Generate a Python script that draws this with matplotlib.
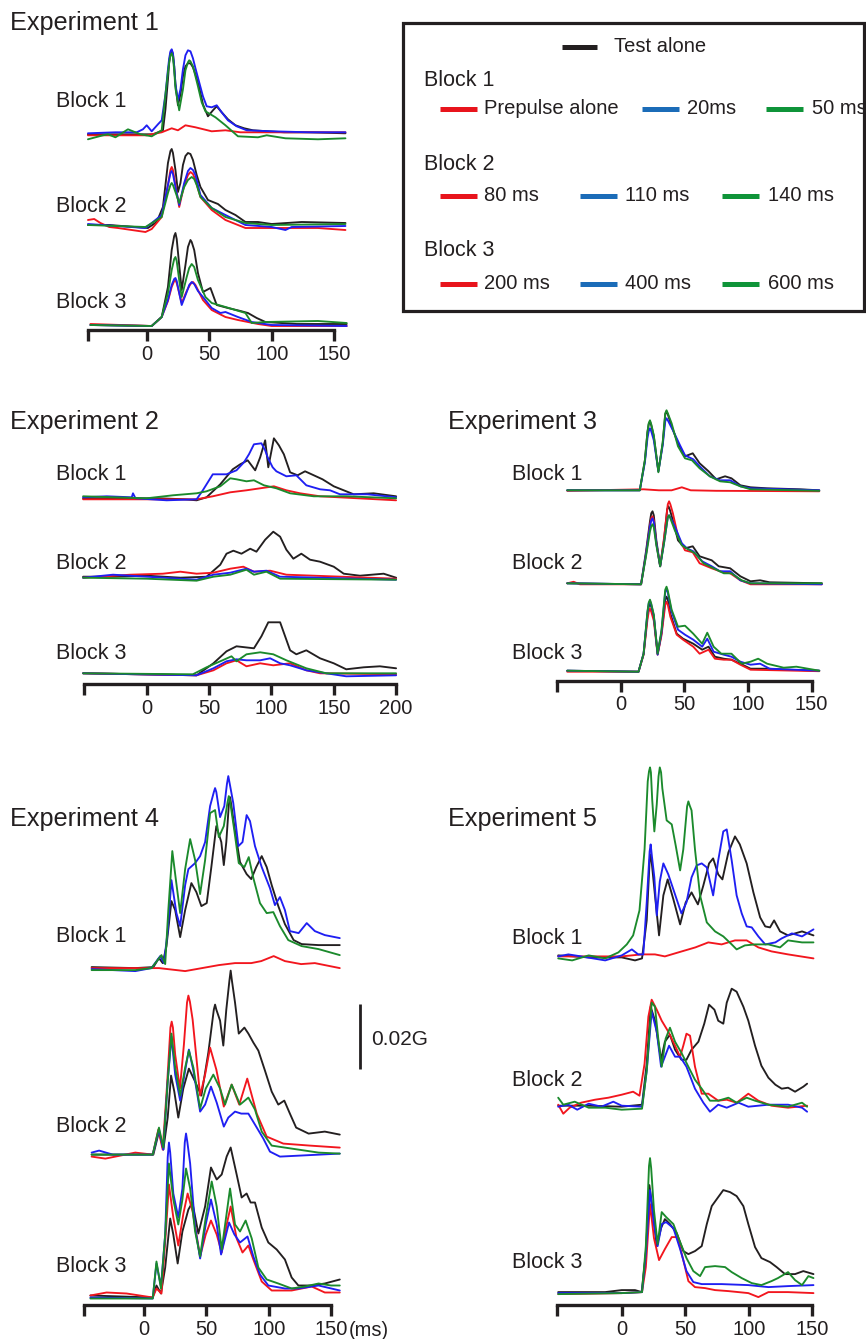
import matplotlib
matplotlib.use('Agg')
import matplotlib.pyplot as plt
from matplotlib.lines import Line2D
from matplotlib.patches import Rectangle

plt.rcParams['font.family'] = ['Liberation Sans', 'DejaVu Sans']

# ---------------------------------------------------------------- data
# time in ms, amplitude in arbitrary units (65 units = 0.02 G, see scale bar)
# ---- Experiment 1
e1b1_black_t = [-47, -20, 0, 5, 13, 15, 17, 18, 19, 20, 21, 22, 23, 25, 27, 29, 31, 33, 35, 37, 39, 42, 45, 49, 53, 56, 60, 65, 71, 78, 85, 97, 110, 130, 159]
e1b1_black_v = [0, 0, 0, 0, 4, 25, 55, 72, 81, 84, 80, 68, 50, 29, 40, 58, 68, 71, 71, 67, 60, 47, 30, 18, 24, 28, 22, 15, 9, 6, 4, 3, 2, 2, 1]
e1b1_red_t = [-47, 0, 12, 20, 25, 31, 39, 52, 63, 75, 100, 159]
e1b1_red_v = [-1, -1, 2, 6, 4, 9, 7, 3, 4, 2, 2, 2]
e1b1_blue_t = [-47, -25, -8, -3, 0, 4, 9, 12, 15, 17, 18, 19, 20, 21, 22, 23, 25, 27, 29, 31, 33, 35, 37, 39, 42, 45, 48, 52, 56, 60, 65, 72, 80, 100, 130, 159]
e1b1_blue_v = [1, 2, 2, 5, 9, 3, 10, 14, 40, 65, 76, 83, 85, 81, 68, 50, 34, 45, 65, 79, 84, 83, 76, 66, 52, 38, 28, 27, 29, 22, 14, 8, 4, 3, 2, 2]
e1b1_green_t = [-47, -35, -31, -25, -15, -5, 4, 12, 15, 17, 18, 19, 20, 21, 22, 23, 26, 29, 31, 33, 34, 35, 37, 41, 44, 47, 51, 55, 63, 73, 89, 96, 111, 137, 159]
e1b1_green_v = [-5, -1, 0, -3, 5, 0, -2, 4, 40, 62, 72, 79, 81, 77, 64, 46, 24, 45, 64, 72, 74, 73, 68, 48, 32, 23, 20, 17, 9, -2, -3, -1, -4, -5, -4]

e1b2_black_t = [-47, -30, 1, 8, 13, 15, 17, 19, 20, 21, 23, 25, 27, 29, 31, 33, 35, 37, 40, 43, 49, 57, 63, 71, 79, 89, 100, 124, 159]
e1b2_black_v = [0, 0, -3, 3, 18, 40, 62, 74, 76, 72, 55, 33, 42, 60, 69, 72, 71, 65, 50, 38, 25, 21, 15, 10, 3, 3, 1, 3, 2]
e1b2_red_t = [-47, -42, -37, -30, -23, -1, 4, 12, 17, 19, 20, 21, 23, 26, 30, 33, 35, 37, 39, 43, 52, 63, 79, 100, 137, 159]
e1b2_red_v = [5, 6, 2, -2, -3, -7, -4, 8, 40, 55, 58, 55, 40, 18, 40, 50, 53, 51, 45, 28, 15, 5, -3, -3, -3, -5]
e1b2_blue_t = [-47, -1, 12, 17, 19, 20, 21, 23, 26, 30, 33, 35, 37, 39, 43, 52, 63, 79, 100, 111, 116, 159]
e1b2_blue_v = [1, -3, 10, 40, 52, 54, 51, 38, 20, 42, 54, 57, 55, 50, 30, 17, 10, 0, -2, -5, -2, -1]
e1b2_green_t = [-47, -1, 12, 17, 19, 20, 21, 23, 26, 30, 33, 36, 38, 40, 43, 52, 63, 79, 100, 159]
e1b2_green_v = [0, -2, 8, 32, 40, 42, 40, 33, 22, 38, 45, 48, 46, 40, 28, 17, 8, 2, 0, 1]

e1b3_black_t = [-45, 4, 12, 17, 20, 22, 23, 24, 26, 28, 31, 33, 35, 36, 38, 41, 45, 48, 51, 56, 65, 75, 81, 88, 95, 120, 160]
e1b3_black_v = [0, -1, 8, 38, 75, 89, 92, 86, 60, 35, 60, 78, 85, 83, 75, 52, 33, 35, 37, 20, 17, 14, 12, 7, 3, 1, 1]
e1b3_red_t = [-45, 4, 12, 17, 20, 22, 23, 24, 26, 28, 32, 35, 37, 39, 41, 45, 52, 63, 73, 89, 100, 160]
e1b3_red_v = [1, -1, 8, 24, 38, 44, 45, 42, 32, 22, 34, 41, 43, 40, 35, 25, 15, 8, 5, 1, -1, -1]
e1b3_blue_t = [-45, 4, 12, 17, 20, 22, 23, 24, 26, 28, 32, 34, 36, 38, 41, 45, 52, 59, 63, 73, 84, 100, 160]
e1b3_blue_v = [0, -1, 8, 25, 40, 46, 47, 44, 32, 20, 33, 40, 43, 41, 34, 28, 17, 12, 13, 8, 3, 0, -1]
e1b3_green_t = [-45, 4, 12, 17, 20, 22, 23, 24, 26, 28, 32, 34, 36, 38, 41, 47, 52, 63, 79, 84, 95, 137, 160]
e1b3_green_v = [0, -1, 8, 32, 55, 66, 68, 64, 45, 28, 48, 57, 61, 58, 45, 28, 22, 18, 12, 2, 3, 4, 2]

# ---- Experiment 2
e2b1_black_t = [-51, -20, 10, 30, 40, 48, 59, 69, 75, 81, 87, 91, 95, 97.5, 102, 106, 110, 115, 121, 127, 134, 141, 150, 158, 166, 182, 200]
e2b1_black_v = [0, 0, 0, -1, -2, 1, 14, 29, 34, 38, 28, 41, 58, 31, 60, 53, 44, 26, 23, 27, 23, 19, 12, 8, 4, 5, 2]
e2b1_red_t = [-51, 40, 53, 67, 80, 91, 102, 112, 123, 139, 200]
e2b1_red_v = [-1, -1, 2, 6, 8, 10, 12, 8, 5, 2, -2]
e2b1_blue_t = [-51, -32, -12, -11, -9, 16, 40, 45, 53, 64, 72, 78, 82, 86, 92, 95, 97, 101, 104, 112, 120, 128, 139, 147, 155, 177, 200]
e2b1_blue_v = [1, 2, 1, 5, 0, -2, -1, 8, 24, 24, 28, 36, 44, 54, 55, 48, 41, 31, 27, 22, 23, 13, 9, 8, 4, 4, 1]
e2b1_green_t = [-51, 0, 21, 40, 48, 59, 67, 72, 80, 86, 94, 104, 115, 134, 160, 200]
e2b1_green_v = [2, 0, 3, 5, 7, 12, 20, 19, 17, 18, 13, 10, 5, 2, 2, 0]

e2b2_black_t = [-51, -27, 0, 27, 48, 59, 64, 69.5, 76, 83, 88, 95, 101.5, 107, 112, 117.6, 124, 131, 139, 150, 158, 171, 190, 200]
e2b2_black_v = [0, 0, 1, -1, 0, 12, 23, 26, 23, 28, 25, 37, 45, 40, 27, 18, 23, 17, 15, 10, 3, 1, 3, -1]
e2b2_red_t = [-51, -13, 13, 27, 40, 53.5, 67, 77.5, 86, 99, 112, 200]
e2b2_red_v = [-1, 2, 3, 5, 3, 4, 8, 10, 5, 6, 2, -2]
e2b2_blue_t = [-51, -27, 0, 40, 53.5, 67, 80, 86, 96, 107, 200]
e2b2_blue_v = [-1, 2, 0, -3, 2, 4, 8, 5, 6, 0, -3]
e2b2_green_t = [-51, 0, 40, 53.5, 67, 80, 86, 96, 107, 200]
e2b2_green_v = [-1, -2, -4, 0, 2, 7, 2, 5, -2, -3]

e2b3_black_t = [-51, 40, 53.5, 64, 72, 86, 92, 97.5, 107, 115, 120, 128, 139, 150, 160, 174, 187, 200]
e2b3_black_v = [0, -2, 10, 22, 27, 25, 37, 51, 51, 23, 19, 23, 15, 10, 4, 6, 7, 5]
e2b3_red_t = [-51, 40, 53.5, 64, 72, 80, 91, 101.5, 115, 128, 139, 200]
e2b3_red_v = [0, -2, 3, 10, 13, 7, 10, 8, 10, 3, 0, -1]
e2b3_blue_t = [-51, 40, 53.5, 64, 72, 80, 91, 99, 107, 115, 128, 160, 200]
e2b3_blue_v = [0, -2, 5, 12, 14, 13, 13, 15, 10, 8, 3, -3, -2]
e2b3_green_t = [-51, 37, 48, 59, 68, 72, 80, 91, 101.5, 112, 128, 144, 200]
e2b3_green_v = [0, -1, 6, 12, 17, 12, 19, 21, 19, 13, 5, 0, 0]

# ---- Experiment 3
e3b1_black_t = [-42, 15, 19, 21, 22, 23, 24, 26, 29.6, 33, 35, 36, 37, 40, 45, 50.5, 56.6, 62, 69, 75, 82, 87, 94, 102, 115, 141, 156]
e3b1_black_v = [0, 0, 30, 58, 66, 69, 65, 54, 19, 47, 76, 79, 76, 64, 47, 34, 37, 27, 19, 11, 14, 12, 5, 3, 2, 1, 0]
e3b1_red_t = [-42, 18, 30, 40, 48, 55, 75, 156]
e3b1_red_v = [-0.5, 1, 0, 0, 3, 0, -0.5, -1]
e3b1_blue_t = [-42, 15, 19, 21, 22, 23, 24, 26, 29.6, 33, 35, 36, 37, 41, 46.6, 50.5, 57, 62, 70, 78, 86, 94, 102, 156]
e3b1_blue_v = [0, 0, 28, 52, 59, 62, 59, 50, 19, 45, 69, 72, 70, 60, 45, 35, 31, 24, 14, 10, 10, 4, 2, 0]
e3b1_green_t = [-42, 15, 19, 21, 22, 23, 24, 26, 29.6, 33, 35, 36, 37, 40, 45, 50.5, 56, 62, 70, 78, 86, 94, 102, 156]
e3b1_green_v = [0, 0, 30, 58, 67, 70, 66, 55, 18, 48, 77, 80, 77, 67, 44, 32, 30, 22, 14, 9, 8, 4, 1, -0.5]

e3b2_black_t = [-42, 16, 20, 23, 24, 25, 26, 28, 31, 34, 36.5, 37.5, 38.5, 41, 45, 50.5, 56.6, 62, 71.5, 77, 86, 94, 102, 109.5, 117, 158]
e3b2_black_v = [0, -1, 33, 62, 70, 72, 68, 43, 17, 43, 74, 77, 74, 63, 43, 35, 37, 27, 23, 17, 15, 7, 2, 3, 1, 0]
e3b2_red_t = [-42, -37, -32, 16, 20, 23, 24, 25, 26, 28, 31, 34, 37, 38, 39, 41, 45, 50.5, 56.6, 62, 71.5, 78, 86, 94, 102, 158]
e3b2_red_v = [0, 1.5, -1, -1, 30, 58, 65, 67, 63, 40, 17, 45, 79, 82, 79, 70, 47, 33, 31, 20, 15, 12, 10, 3, -1, -1]
e3b2_blue_t = [-42, 16, 20, 23, 24, 25, 26, 28, 31, 34, 37, 38, 39, 42.5, 48, 52, 57, 64, 71.5, 78, 86, 94, 102, 158]
e3b2_blue_v = [0, -1, 30, 57, 63, 65, 61, 40, 17, 40, 66, 68, 66, 57, 40, 35, 32, 22, 17, 12, 12, 3, 0, -1]
e3b2_green_t = [-42, 16, 20, 23, 24, 25, 26, 28, 31, 34, 37, 38, 39, 42.5, 48, 53, 58.5, 65, 73, 81, 87, 95, 102, 158]
e3b2_green_v = [0, -1, 28, 52, 57, 59, 56, 38, 17, 40, 66, 68, 65, 53, 38, 34, 30, 20, 15, 10, 10, 3, 0, 0]

e3b3_black_t = [-42, 14, 18, 21, 22, 23, 24, 26, 29, 32, 35, 36, 37, 39, 44, 49, 57, 64, 69, 74, 81, 87, 94, 102, 115, 130, 156]
e3b3_black_v = [0, -1, 17, 55, 64, 67, 64, 54, 17, 37, 71, 74, 71, 57, 37, 32, 27, 21, 24, 14, 12, 11, 7, 2, 2, 1, 0]
e3b3_red_t = [-42, 14, 18, 21, 22, 23, 24, 26, 29, 32, 35, 36, 37, 39, 44, 49, 57, 62, 69, 74, 81, 87, 94, 102, 156]
e3b3_red_v = [-1, -1, 16, 51, 59, 62, 59, 50, 16, 35, 66, 69, 66, 54, 36, 31, 24, 17, 21, 12, 11, 11, 6, 1, -0.5]
e3b3_blue_t = [-42, 14, 18, 21, 22, 23, 24, 26, 29, 32, 35, 36, 37, 40, 45, 50.5, 57, 64, 68, 73, 81, 87, 94, 102, 109.5, 117, 156]
e3b3_blue_v = [0, -1, 17, 58, 67, 70, 66, 55, 16, 38, 79, 82, 78, 59, 41, 36, 31, 24, 32, 19, 16, 14, 9, 6, 7, 2, 0]
e3b3_green_t = [-42, 14, 18, 21, 22, 23, 24, 26, 29, 32, 35, 36, 37, 40, 45, 50.5, 57, 64, 68, 73, 79, 87, 95, 102, 108, 115, 128, 138, 156]
e3b3_green_v = [0, -1, 17, 59, 68, 71, 67, 56, 17, 40, 81, 84, 80, 61, 44, 45, 37, 27, 38, 24, 17, 17, 7, 9, 12, 7, 3, 4, 0]

# ---- Experiment 4
e4b1_black_t = [-42, -7, 7.5, 12, 15, 18, 22, 25, 29, 33, 38, 42, 46, 50.3, 54, 58, 62, 64, 66, 68, 69, 70, 73, 77, 82.3, 86, 90, 94.4, 98.4, 102.4, 107.7, 113, 120, 126.4, 140, 157]
e4b1_black_v = [0, -1, 0, 9, 4, 21, 66, 57, 30, 57, 84, 75, 61, 64, 100, 141, 125, 102, 125, 162, 170, 162, 136, 105, 93, 88, 100, 111, 100, 82, 61, 43, 27, 23, 22, 22]
e4b1_red_t = [-42, 12, 33, 60, 73, 86, 94, 104, 113, 126, 137, 157]
e4b1_red_v = [-1, -1, -4, 2, 4, 4, 6, 11, 6, 3, 4, -1]
e4b1_blue_t = [-42, -7, 6, 13, 16, 19, 22, 26, 29, 33, 35.6, 41, 45, 49, 53, 56, 57, 58, 61, 64.4, 66.5, 67.6, 68.8, 71.6, 75.7, 79, 82.3, 85, 89, 94.4, 101, 105, 109, 113, 117, 124, 130.5, 137, 145, 157]
e4b1_blue_v = [-2, -4, -1, 11, 4, 36, 87, 54, 41, 82, 98, 104, 111, 125, 161, 175, 179, 175, 150, 161, 183, 191, 183, 164, 121, 125, 152, 146, 121, 100, 79, 62, 70, 57, 36, 34, 44, 36, 32, 29]
e4b1_green_t = [-42, -7, 6, 14, 17, 19.5, 22.7, 25.4, 29, 33, 37, 41, 45, 49, 53, 57, 60, 64, 67, 68, 69, 72.5, 76, 80.5, 84, 87.7, 93, 98.4, 103.7, 109, 115.7, 126.4, 140, 157]
e4b1_green_v = [-3, -3, -1, 12, 3, 57, 116, 89, 54, 98, 128, 107, 73, 107, 154, 157, 130, 141, 165, 171, 166, 136, 104, 100, 110, 89, 64, 54, 55, 41, 27, 21, 18, 12]

e4b2_black_t = [-42, 7.5, 12, 15.5, 19, 21.7, 24.3, 27.5, 31.5, 36, 41, 46, 51.6, 56, 57, 58, 61, 63.6, 66, 68.5, 69.5, 70.5, 73, 76, 80.5, 83.7, 87.7, 91.7, 97, 102.4, 107.7, 112.5, 117, 122, 132, 145, 157]
e4b2_black_v = [0, 0, 23, 5, 37, 79, 63, 37, 66, 86, 73, 59, 102, 145, 150, 145, 134, 109, 145, 174, 184, 174, 152, 121, 127, 121, 112, 104, 84, 63, 50, 54, 41, 27, 21, 23, 20]
e4b2_red_t = [-42, -31, -7, 7, 11.5, 15, 18.5, 21.2, 22.2, 23.2, 25, 28.8, 32, 34.5, 35.6, 36.8, 39, 45, 49, 53, 58, 64, 70.3, 76.4, 82.8, 90.4, 98.4, 111.7, 133, 157]
e4b2_red_v = [-2, -4, 2, 0, 25, 5, 70, 127, 133, 127, 100, 66, 110, 152, 159, 153, 135, 59, 80, 107, 85, 48, 70, 50, 76, 41, 18, 11, 9, 7]
e4b2_blue_t = [-42, -36, -25, 7, 12, 15.5, 19, 22, 25, 29, 33, 36, 39.6, 45, 49, 53.7, 58.3, 64, 67.6, 73, 78, 83.7, 89, 95.7, 101, 109, 157]
e4b2_blue_v = [2, 4, 0, 0, 25, 5, 73, 118, 80, 54, 84, 105, 84, 43, 50, 68, 52, 28, 37, 43, 41, 41, 30, 16, 3, -2, 1]
e4b2_green_t = [-42, 7, 12, 15.5, 19, 22, 25, 29, 33, 36, 39.6, 45, 49.5, 55.6, 61, 65, 70.3, 77, 83.7, 89, 94.4, 102.4, 113, 140, 157]
e4b2_green_v = [0, 0, 27, 7, 73, 121, 87, 59, 87, 104, 87, 46, 66, 80, 66, 50, 70, 50, 57, 45, 23, 9, 7, 2, 1]

e4b3_black_t = [-43, 7, 10, 13.6, 17, 21, 23.5, 27, 30.8, 35.6, 38.8, 43.6, 49, 53.7, 58.3, 62.3, 66.3, 69.5, 74.3, 78.3, 82.3, 85.5, 89, 94.4, 99.7, 106.4, 113, 118.4, 123.8, 134.5, 145, 157]
e4b3_black_v = [2, 0, 12, 4, 30, 79, 63, 34, 66, 88, 95, 64, 91, 130, 118, 123, 141, 150, 123, 100, 104, 95, 95, 70, 55, 48, 38, 20, 12, 12, 14, 18]
e4b3_red_t = [-43, -30, -14, 7, 10, 14, 17.4, 20, 23.5, 27.5, 31.6, 35, 39, 45, 49.5, 53.7, 58.3, 62.3, 66.3, 69.5, 74.3, 79, 83.7, 87.7, 94.4, 102.4, 118.4, 134.5, 145, 157]
e4b3_red_v = [2, 5, 4, 0, 9, 4, 63, 113, 80, 52, 84, 104, 86, 41, 63, 77, 63, 45, 73, 91, 59, 45, 52, 38, 16, 7, 7, 11, 5, 5]
e4b3_blue_t = [-43, 7, 10, 13.6, 17, 19, 20, 21, 23.5, 27.5, 30.8, 32.7, 33.7, 34.7, 37, 41, 45, 49.5, 53.7, 58.3, 61.8, 65, 68.2, 72.5, 77, 83, 87.7, 93, 99.7, 113, 123.8, 140, 157]
e4b3_blue_v = [0, -1, 34, 11, 63, 140, 155, 145, 104, 80, 109, 155, 164, 156, 134, 70, 39, 73, 98, 73, 43, 59, 75, 63, 55, 61, 41, 23, 12, 9, 9, 12, 7]
e4b3_green_t = [-43, 7, 10, 13.6, 17, 20, 23.5, 27.5, 30.8, 33.7, 37, 41, 45, 49.5, 54.3, 58.3, 62.3, 65.5, 69, 73, 77, 81.5, 86.4, 91.7, 98.4, 107.7, 118.4, 129, 140, 150, 157]
e4b3_green_v = [-1, -1, 36, 9, 63, 134, 98, 73, 98, 129, 109, 66, 41, 80, 116, 91, 48, 77, 109, 73, 66, 77, 59, 30, 18, 14, 9, 11, 14, 12, 12]

# ---- Experiment 5
e5b1_black_t = [-50, -26, 0, 10.5, 16, 19.7, 22, 22.8, 23.8, 26.2, 29.4, 32.8, 36.2, 40.7, 46, 50.4, 55, 60, 64.3, 68.8, 72, 76, 79.3, 84, 89.2, 93, 98.4, 103.7, 109, 113, 116.8, 120, 124.7, 131, 136.5, 142, 151]
e5b1_black_v = [1, -1, -1, -4, -2, 36, 96, 102, 92, 61, 21, 61, 77, 57, 32, 54, 64, 52, 71, 93, 98, 82, 77, 104, 120, 112, 93, 64, 39, 30, 29, 36, 25, 21, 23, 25, 21]
e5b1_red_t = [-50, 0, 15.7, 26.2, 34, 44.6, 58, 68.2, 78.7, 89.2, 98.4, 107.6, 118, 131, 151]
e5b1_red_v = [0, 0, 2, 2, 0, 4, 9, 14, 12, 16, 16, 9, 5, 2, -2]
e5b1_blue_t = [-50, -42, -32, -13, 0, 8, 13, 17, 19.7, 22, 22.8, 23.8, 25.7, 27.6, 30, 32.8, 36.7, 42, 47, 51, 55, 59, 63, 67, 72, 76, 80, 82.7, 86.6, 90.5, 94.5, 98.4, 102.4, 107.6, 113, 121, 126, 134, 142, 151]
e5b1_blue_v = [0, 2, 0, -4, 1, 7, 2, 2, 54, 105, 112, 100, 79, 41, 75, 93, 82, 62, 43, 54, 79, 91, 93, 89, 61, 96, 125, 127, 96, 61, 43, 30, 29, 20, 12, 14, 18, 23, 20, 27]
e5b1_green_t = [-50, -39, -26, -13, -2.6, 4, 9, 14, 18, 20.5, 21.5, 22.3, 23, 24, 25.7, 27.6, 29, 30, 31, 32, 35.4, 39.4, 42.5, 46, 48.5, 51.5, 52.5, 53.5, 55, 57.7, 61.7, 67, 73.5, 80, 86.6, 90.5, 97, 105, 115.5, 124.7, 131, 142, 151]
e5b1_green_v = [-2, -4, 1, -2, 4, 12, 21, 46, 107, 175, 185, 189, 184, 157, 125, 152, 180, 189, 184, 168, 136, 132, 111, 86, 107, 150, 155, 151, 146, 107, 61, 34, 25, 20, 12, 7, 11, 12, 12, 9, 16, 14, 14]

e5b2_black_t = [-50, -26, 0, 16, 19.7, 22.8, 26.2, 31, 34, 38, 42, 47, 51, 55, 60.4, 65, 68.8, 73, 76, 80, 82.7, 86.6, 90.5, 95.8, 99.7, 105, 110, 115.5, 121, 126, 131, 136.5, 143, 146]
e5b2_black_v = [0, 0, -1, 1, 42, 99, 85, 46, 64, 71, 56, 46, 46, 56, 64, 82, 101, 96, 85, 82, 103, 117, 114, 99, 85, 60, 40, 28, 21, 17, 18, 14, 19, 22]
e5b2_red_t = [-50, -46, -41, -32, -21, -10.5, 0, 9, 14, 18, 21, 23.6, 27.6, 31.5, 36.7, 42, 46, 48.5, 51, 53.8, 57.7, 63, 68.2, 76, 82.7, 90.5, 99.7, 107.6, 118, 131, 146]
e5b2_red_v = [1, -8, -2, 3, 6, 8, 11, 14, 10, 42, 89, 106, 96, 85, 74, 60, 49, 60, 72, 70, 39, 12, 12, 5, 6, 3, 12, 5, 0, -2, 0]
e5b2_blue_t = [-50, -42, -35, -26, -16, -6.6, 0, 16, 19.7, 23.6, 27.6, 31, 34, 37.3, 42, 46, 51, 57.7, 64.3, 69.5, 76, 82.7, 92, 99.7, 115.5, 131, 142, 146]
e5b2_blue_v = [-1, 1, -4, 2, -1, 4, 0, -1, 35, 94, 74, 39, 49, 60, 49, 49, 39, 17, 3, -6, 1, -2, 3, -1, 1, 1, -2, -6]
e5b2_green_t = [-50, -46, -37, -26, -13, 0, 16, 19.7, 23.6, 26.2, 28.8, 31.5, 34.6, 38, 42, 47, 52.5, 57.7, 63, 69.5, 76, 84, 90.5, 98.4, 105, 115.5, 131, 142, 146]
e5b2_green_v = [8, 1, 4, -2, -2, -4, -3, 35, 103, 99, 67, 39, 67, 78, 64, 53, 39, 26, 17, 5, 5, 8, 3, 8, 5, 1, -1, 3, -1]

e5b3_black_t = [-50, -13, 0, 10.5, 15.7, 19, 21.8, 24, 27.6, 31, 34, 38, 43.3, 48.5, 52.5, 57.7, 63, 67, 70.9, 76, 80, 85.3, 90.5, 95.8, 99.7, 105, 110, 116.8, 122, 128.6, 136.5, 143, 151]
e5b3_black_v = [0, 0, 2, 2, 0, 39, 107, 86, 46, 64, 73, 68, 59, 41, 38, 41, 46, 68, 86, 95, 102, 100, 96, 86, 68, 45, 34, 30, 25, 18, 18, 21, 18]
e5b3_red_t = [-50, 0, 16, 19, 22.3, 25.4, 29.4, 34, 39.4, 44, 48.5, 52.5, 57.7, 65.6, 73.5, 84, 99.7, 107.6, 115.5, 131, 151]
e5b3_red_v = [-2, -1, 0, 25, 88, 54, 32, 43, 55, 55, 32, 11, 5, 4, 2, 1, -1, -5, 0, 0, -1]
e5b3_blue_t = [-50, 0, 16, 19, 22.3, 25.4, 28.3, 31.5, 35, 40.7, 46, 51, 56.4, 63, 78.7, 99.7, 115.5, 131, 151]
e5b3_blue_v = [-1, -1, 0, 39, 102, 68, 46, 68, 70, 64, 43, 21, 10, 8, 8, 7, 5, 6, 7]
e5b3_green_t = [-50, 0, 16, 19, 21.5, 22.3, 23.2, 25.4, 28.3, 31.5, 35, 40.7, 46, 51, 56.4, 61.7, 65.6, 73.5, 81.4, 86.6, 94.5, 102.4, 110, 118, 123, 131, 136.5, 142, 147, 151]
e5b3_green_v = [-2, -1, 0, 46, 126, 134, 124, 82, 48, 80, 75, 68, 50, 34, 21, 16, 25, 26, 25, 20, 14, 9, 7, 11, 14, 20, 12, 7, 16, 14]

# legend labels
legend_test = 'Test alone'
legend_blocks = ['Block 1', 'Block 2', 'Block 3']
legend_conditions = [['Prepulse alone', '20ms', '50 ms'],
                     ['80 ms', '110 ms', '140 ms'],
                     ['200 ms', '400 ms', '600 ms']]
scale_bar_label = '0.02G'
scale_bar_units = 65

# ---------------------------------------------------------------- styles / layout
W, H = 866, 1339
TXT = '#231f20'
TRACE = {'black': '#231f20', 'red': '#f2161e', 'blue': '#1f1ff2', 'green': '#1b8a2c'}
LEG = {'black': '#231f20', 'red': '#e8141c', 'blue': '#1b6cb8', 'green': '#0f9439'}
ORDER = ['black', 'red', 'blue', 'green']

def fx(px):
    return px / W

def fy(py):
    return 1 - py / H

def block(prefix):
    g = globals()
    return {c: (g[f'{prefix}_{c}_t'], g[f'{prefix}_{c}_v']) for c in ORDER}

panels = [
    dict(title='Experiment 1', title_xy=(10, 23), blocks=[block('e1b1'), block('e1b2'), block('e1b3')],
         x0=146.7, ppm=1.25, axis_y=330, base=[134.3, 225, 325], bounds=(-47, 150),
         ticks=[0, 50, 100, 150], rect=(60, 30, 360, 372), label_x=56, label_y=[101.7, 206, 302.7]),
    dict(title='Experiment 2', title_xy=(10, 421.7), blocks=[block('e2b1'), block('e2b2'), block('e2b3')],
         x0=146.7, ppm=1.247, axis_y=684, base=[498.3, 576.7, 673.3], bounds=(-50, 200),
         ticks=[0, 50, 100, 150, 200], rect=(60, 430, 415, 725), label_x=56, label_y=[475, 563.3, 653.3]),
    dict(title='Experiment 3', title_xy=(448, 421.7), blocks=[block('e3b1'), block('e3b2'), block('e3b3')],
         x0=620.7, ppm=1.273, axis_y=680.5, base=[490.3, 583.3, 670.7], bounds=(-50, 150),
         ticks=[0, 50, 100, 150], rect=(530, 400, 845, 725), label_x=511.7, label_y=[475, 563.3, 653.3]),
    dict(title='Experiment 4', title_xy=(10, 819), blocks=[block('e4b1'), block('e4b2'), block('e4b3')],
         x0=144, ppm=1.247, axis_y=1305, base=[967.1, 1154.6, 1297.5], bounds=(-48, 150),
         ticks=[0, 50, 100, 150], rect=(60, 760, 450, 1339), label_x=56, label_y=[937, 1127, 1267]),
    dict(title='Experiment 5', title_xy=(448, 819), blocks=[block('e5b1'), block('e5b2'), block('e5b3')],
         x0=621.7, ppm=1.27, axis_y=1305, base=[956.4, 1105.7, 1292.1], bounds=(-51, 150),
         ticks=[0, 50, 100, 150], rect=(530, 760, 845, 1339), label_x=511.7, label_y=[939, 1081, 1263]),
]

fig = plt.figure(figsize=(W / 100, H / 100), dpi=100)
fig.patch.set_facecolor('white')

axes = []
for p in panels:
    L, T, R, B = p['rect']
    ax = fig.add_axes([fx(L), fy(B), (R - L) / W, (B - T) / H])
    ax.patch.set_visible(False)
    ax.set_xlim((L - p['x0']) / p['ppm'], (R - p['x0']) / p['ppm'])
    ax.set_ylim(-(B - p['axis_y']), p['axis_y'] - T)
    for k, blk in enumerate(p['blocks']):
        off = p['axis_y'] - p['base'][k]
        for c in ORDER:
            t, v = blk[c]
            ax.plot(t, [vv + off for vv in v], color=TRACE[c], lw=1.35,
                    solid_joinstyle='round', solid_capstyle='round', zorder=2)
        fig.text(fx(p['label_x']), fy(p['label_y'][k]), legend_blocks[k], fontsize=15.5,
                 color=TXT, ha='left', va='center')
    fig.text(fx(p['title_xy'][0]), fy(p['title_xy'][1]), p['title'], fontsize=18.2,
             color=TXT, ha='left', va='center')
    for s in ['top', 'left', 'right']:
        ax.spines[s].set_visible(False)
    sp = ax.spines['bottom']
    sp.set_position(('data', 0))
    sp.set_bounds(p['bounds'][0], p['bounds'][1])
    sp.set_linewidth(2.4)
    sp.set_color(TXT)
    sp.set_capstyle('projecting')
    ax.set_yticks([])
    ax.set_xticks([p['bounds'][0]] + p['ticks'])
    ax.set_xticklabels([''] + [str(v) for v in p['ticks']])
    ax.tick_params(axis='x', direction='out', length=8, width=2.4, pad=2.5,
                   labelsize=14.5, colors=TXT)
    axes.append(ax)

# scale bar (experiment 4 axes)
p4 = panels[3]
ax4 = axes[3]
t_bar = (360 - p4['x0']) / p4['ppm']
y_bar0 = p4['axis_y'] - 1069
ax4.plot([t_bar, t_bar], [y_bar0, y_bar0 + scale_bar_units], color=TXT, lw=2.0,
         solid_capstyle='butt', clip_on=False)
ax4.text((371 - p4['x0']) / p4['ppm'], y_bar0 + scale_bar_units / 2 - 3, scale_bar_label,
         fontsize=15, color=TXT, ha='left', va='center')
# (ms) unit label
fig.text(fx(349), fy(1330), '(ms)', fontsize=14.5, color=TXT, ha='left', va='center')

# ---------------------------------------------------------------- legend box
fig.add_artist(Rectangle((fx(403), fy(311)), (864 - 403) / W, (311 - 23) / H,
                         transform=fig.transFigure, fill=False, edgecolor=TXT, lw=2.3))

def leg_line(x1, x2, y, color):
    fig.add_artist(Line2D([fx(x1), fx(x2)], [fy(y), fy(y)], transform=fig.transFigure,
                          color=color, lw=3.6, solid_capstyle='butt'))

leg_line(561.7, 597.3, 46.7, LEG['black'])
fig.text(fx(614), fy(46), legend_test, fontsize=14.5, color=TXT, ha='left', va='center')

block_y = [80, 164, 251]
row_y = [109, 196, 284]
line_x = [[(440, 477), (642, 679), (766, 803)],
          [(440, 477), (580, 617), (722, 759)],
          [(440, 477), (580, 617), (722, 759)]]
text_x = [[484, 687, 811.5], [483.5, 625, 768], [483.5, 625, 768]]
cols = ['red', 'blue', 'green']
for r in range(3):
    fig.text(fx(424), fy(block_y[r]), legend_blocks[r], fontsize=15.5, color=TXT,
             ha='left', va='center')
    for j in range(3):
        x1, x2 = line_x[r][j]
        leg_line(x1, x2, row_y[r], LEG[cols[j]])
        fig.text(fx(text_x[r][j]), fy(row_y[r] - 0.5), legend_conditions[r][j],
                 fontsize=14.5, color=TXT, ha='left', va='center')

fig.savefig('out.png', dpi=100, facecolor='white')
